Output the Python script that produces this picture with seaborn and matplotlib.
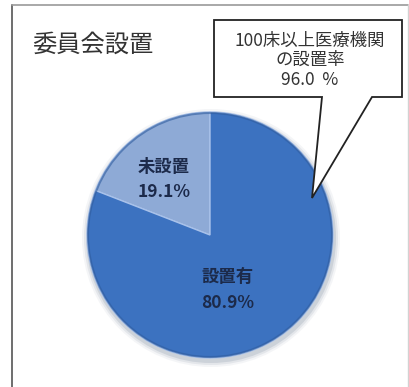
import matplotlib
matplotlib.use("Agg")
import matplotlib.pyplot as plt
from matplotlib.patches import Polygon, Circle
import seaborn as sns

# Committee setup status
categories = ["未設置", "設置有"]
shares = [19.1, 80.9]
title = "委員会設置"
callout_lines = ["100床以上医療機関", "の設置率", "96.0  %"]

sns.set_theme(style="white")
plt.rcParams["font.family"] = ["Noto Sans CJK JP", "DejaVu Sans"]

W, H = 410, 387
fig = plt.figure(figsize=(W / 100, H / 100), dpi=100)
ax = fig.add_axes([0, 0, 1, 1])


def py(y):
    # pixel row (top-down) to data y (bottom-up)
    return H - y


# outer frame (left, top, right edges)
ax.plot([12, 12], [py(5), py(387)], color="#6e6e6e", lw=1.4, zorder=1)
ax.plot([12, 408], [py(5), py(5)], color="#9a9a9a", lw=1.2, zorder=1)
ax.plot([408, 408], [py(5), py(387)], color="#d2d2d2", lw=1.0, zorder=1)

# pie with soft shadow
cx, cy, r = 210, py(235), 123
for k, a in [(6, 0.10), (4, 0.18), (2, 0.30)]:
    ax.add_patch(Circle((cx + 1, cy - 3), r + k, color="#9aa4b4", alpha=a, lw=0, zorder=1))
colors = ["#8eaad6", "#3c72c0"]
wedges, _ = ax.pie(shares, colors=colors, startangle=90, counterclock=True,
                   center=(cx, cy), radius=r,
                   wedgeprops=dict(edgecolor="#a9c2ea", linewidth=1.0))
for w in wedges:
    w.set_zorder(2)
ax.add_patch(Circle((cx, cy), r - 1, fill=False, edgecolor="#2f5c9e", lw=1.5, alpha=0.6, zorder=2.5))

ax.set_xlim(0, W)
ax.set_ylim(0, H)
ax.set_aspect("equal")
ax.axis("off")

# slice labels
lab_color = "#1c2a4a"
for txt, (x, y) in zip([categories[0], f"{shares[0]:.1f}%", categories[1], f"{shares[1]:.1f}%"],
                       [(164, 167), (164, 192), (228, 277), (228, 303)]):
    ax.text(x, py(y), txt, ha="center", va="center", fontsize=12.5,
            fontweight="bold", color=lab_color, zorder=3)

# title
ax.text(32, py(45), title, ha="left", va="center", fontsize=17.5, color="#333333", zorder=3)

# callout box with pointer
bx0, bx1, by0, by1 = 214, 402, 20, 97
tip = (312, 198)
callout = Polygon([(bx0, py(by0)), (bx1, py(by0)), (bx1, py(by1)), (372, py(by1)),
                   (tip[0], py(tip[1])), (322, py(by1)), (bx0, py(by1))],
                  closed=True, facecolor="white", edgecolor="#222222", lw=1.3, zorder=4)
ax.add_patch(callout)
for txt, yy in zip(callout_lines, [41, 60, 80]):
    ax.text(310, py(yy), txt, ha="center", va="center", fontsize=12.5,
            color="#333333", zorder=5)

fig.savefig("out.png", dpi=100, facecolor="white")
